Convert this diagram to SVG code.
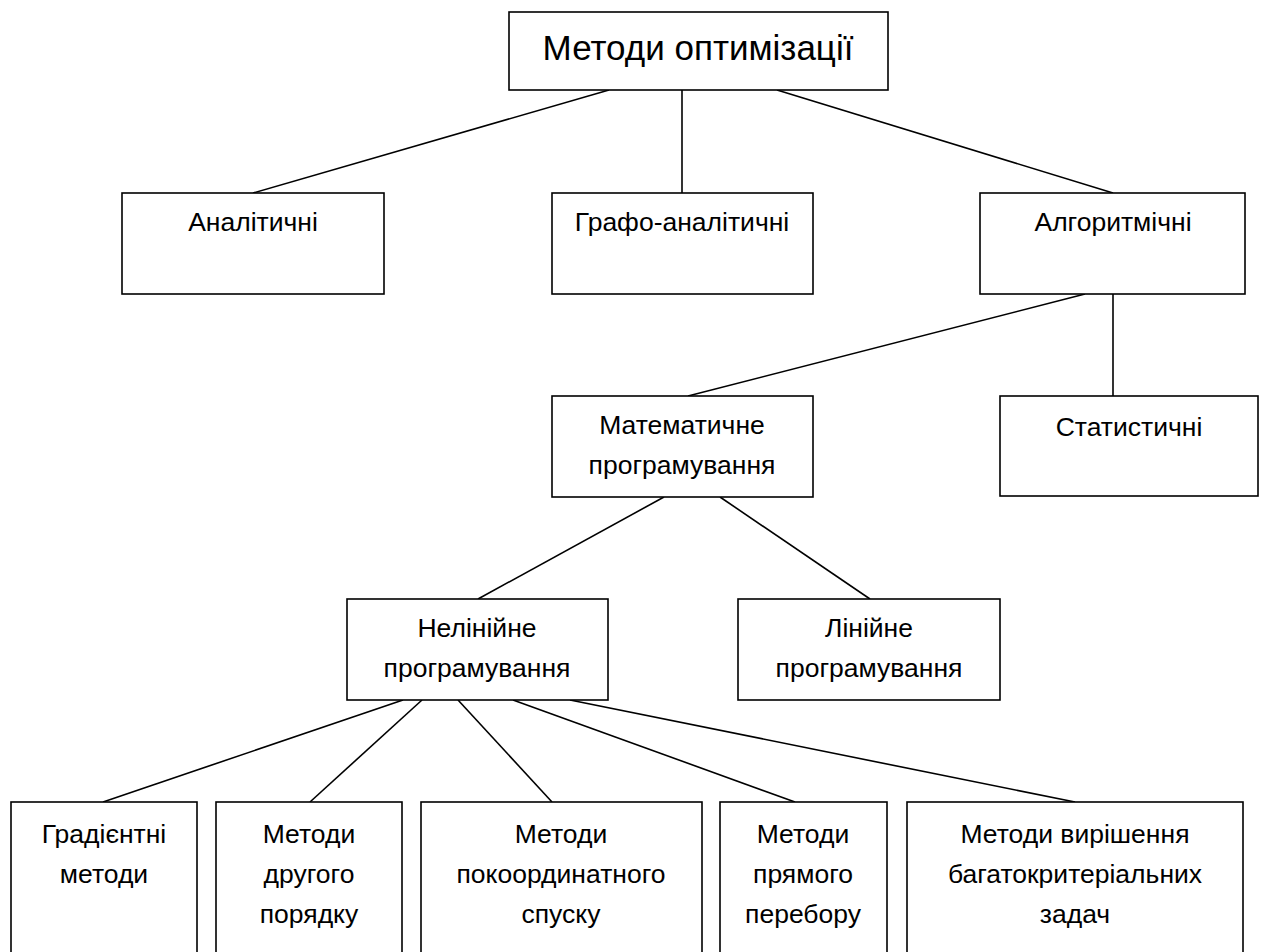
<svg xmlns="http://www.w3.org/2000/svg" width="1262" height="952" viewBox="0 0 1262 952">
<style>
rect{fill:#fff;stroke:#000;stroke-width:1.6}
line{stroke:#000;stroke-width:1.6}
text{font-family:"Liberation Sans",Arial,sans-serif;font-size:26.5px;text-anchor:middle;fill:#000}
.t{font-size:35px}
</style>
<rect width="1262" height="952" style="stroke:none"/>
<g id="connectors">
<line x1="609" y1="90" x2="253" y2="193"/>
<line x1="682" y1="90" x2="682" y2="193"/>
<line x1="777" y1="90" x2="1113" y2="193"/>
<line x1="1085" y1="294" x2="688" y2="396"/>
<line x1="1113" y1="294" x2="1113" y2="396"/>
<line x1="664" y1="497" x2="478" y2="599"/>
<line x1="720" y1="497" x2="870" y2="599"/>
<line x1="403" y1="700" x2="103" y2="802"/>
<line x1="422" y1="700" x2="310" y2="802"/>
<line x1="458" y1="700" x2="552" y2="802"/>
<line x1="513" y1="700" x2="795" y2="802"/>
<line x1="570" y1="700" x2="1075" y2="802"/>
</g>
<g id="root"><rect x="509" y="12" width="379" height="78"/><text class="t" x="698" y="60">Методи оптимізації</text></g>
<g id="analytic"><rect x="122" y="193" width="262" height="101"/><text x="253" y="231">Аналітичні</text></g>
<g id="grapho"><rect x="552" y="193" width="261" height="101"/><text x="682" y="231">Графо-аналітичні</text></g>
<g id="algorithmic"><rect x="980" y="193" width="265" height="101"/><text x="1113" y="231">Алгоритмічні</text></g>
<g id="math"><rect x="552" y="396" width="261" height="101"/><text x="682" y="434">Математичне</text><text x="682" y="474">програмування</text></g>
<g id="stat"><rect x="1000" y="396" width="258" height="100"/><text x="1129" y="436">Статистичні</text></g>
<g id="nonlinear"><rect x="347" y="599" width="261" height="101"/><text x="477" y="637">Нелінійне</text><text x="477" y="677">програмування</text></g>
<g id="linear"><rect x="738" y="599" width="262" height="101"/><text x="869" y="637">Лінійне</text><text x="869" y="677">програмування</text></g>
<g id="gradient"><rect x="11" y="802" width="186" height="160"/><text x="104" y="843">Градієнтні</text><text x="104" y="883">методи</text></g>
<g id="second"><rect x="216" y="802" width="186" height="160"/><text x="309" y="843">Методи</text><text x="309" y="883">другого</text><text x="309" y="923">порядку</text></g>
<g id="coord"><rect x="421" y="802" width="281" height="160"/><text x="561" y="843">Методи</text><text x="561" y="883">покоординатного</text><text x="561" y="923">спуску</text></g>
<g id="direct"><rect x="720" y="802" width="167" height="160"/><text x="803" y="843">Методи</text><text x="803" y="883">прямого</text><text x="803" y="923">перебору</text></g>
<g id="multi"><rect x="907" y="802" width="336" height="160"/><text x="1075" y="843">Методи вирішення</text><text x="1075" y="883">багатокритеріальних</text><text x="1075" y="923">задач</text></g>
</svg>
